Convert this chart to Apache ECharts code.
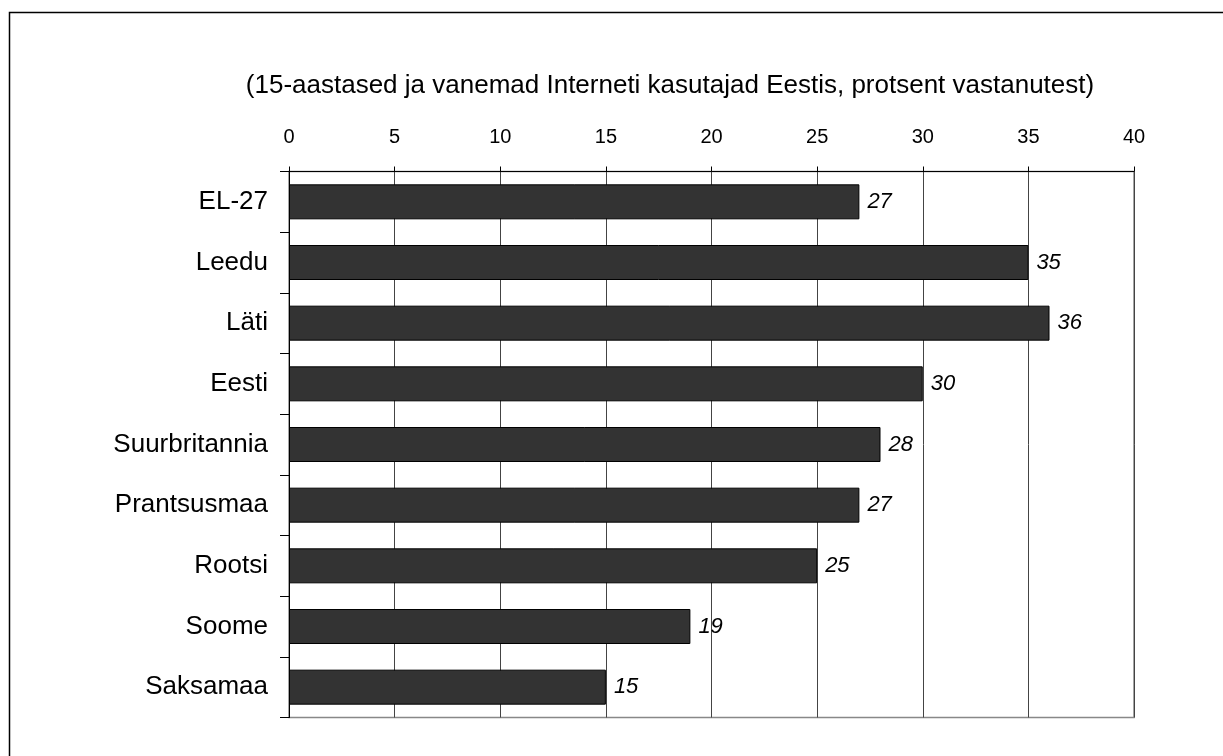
<!DOCTYPE html>
<html>
<head>
<meta charset="utf-8">
<script src="https://cdn.jsdelivr.net/npm/echarts@6/dist/echarts.min.js"></script>
<style>html,body{margin:0;padding:0;background:#fff;}#c{width:1223px;height:756px;}</style>
</head>
<body>
<div id="c"></div>
<script>
const titleText = '(15-aastased ja vanemad Interneti kasutajad Eestis, protsent vastanutest)';
const categories = ['EL-27', 'Leedu', 'Läti', 'Eesti', 'Suurbritannia', 'Prantsusmaa', 'Rootsi', 'Soome', 'Saksamaa'];
const values = [27, 35, 36, 30, 28, 27, 25, 19, 15];
const axisMin = 0, axisMax = 40, axisStep = 5;

const FONT = '"Liberation Sans", Arial, sans-serif';
const chart = echarts.init(document.getElementById('c'), null, {renderer: 'canvas'});
chart.setOption({
  animation: false,
  backgroundColor: '#fff',
  title: {
    text: titleText, left: 665, top: 68, textAlign: 'center',
    textStyle: {fontFamily: FONT, fontSize: 26, fontWeight: 'normal', color: '#000'}
  },
  graphic: [{
    type: 'rect', left: 7, top: 10, silent: true,
    shape: {width: 1400, height: 1000},
    style: {fill: 'none', stroke: '#000', lineWidth: 1.5}
  }],
  grid: {left: 289, right: 89, top: 171.5, bottom: 38.5, show: true, borderColor: '#888', borderWidth: 1.5, backgroundColor: 'transparent'},
  xAxis: {
    type: 'value', position: 'top', min: axisMin, max: axisMax, interval: axisStep,
    axisLine: {show: true, lineStyle: {color: '#000', width: 1}},
    axisTick: {show: true, length: 5, lineStyle: {color: '#000'}},
    axisLabel: {fontFamily: FONT, fontSize: 20, color: '#000', margin: 24},
    splitLine: {show: true, lineStyle: {color: '#444', width: 1}}
  },
  yAxis: {
    type: 'category', data: categories, inverse: true,
    axisLine: {show: true, lineStyle: {color: '#000', width: 1}},
    axisTick: {show: true, length: 9, lineStyle: {color: '#000'}},
    axisLabel: {fontFamily: FONT, fontSize: 26, color: '#000', margin: 21}
  },
  series: [{
    type: 'bar', data: values, barWidth: 35,
    itemStyle: {color: '#333333', borderColor: '#000', borderWidth: 1},
    label: {show: true, position: 'right', distance: 8, fontFamily: FONT, fontSize: 22, fontStyle: 'italic', color: '#000'}
  }]
});
</script>
</body>
</html>
